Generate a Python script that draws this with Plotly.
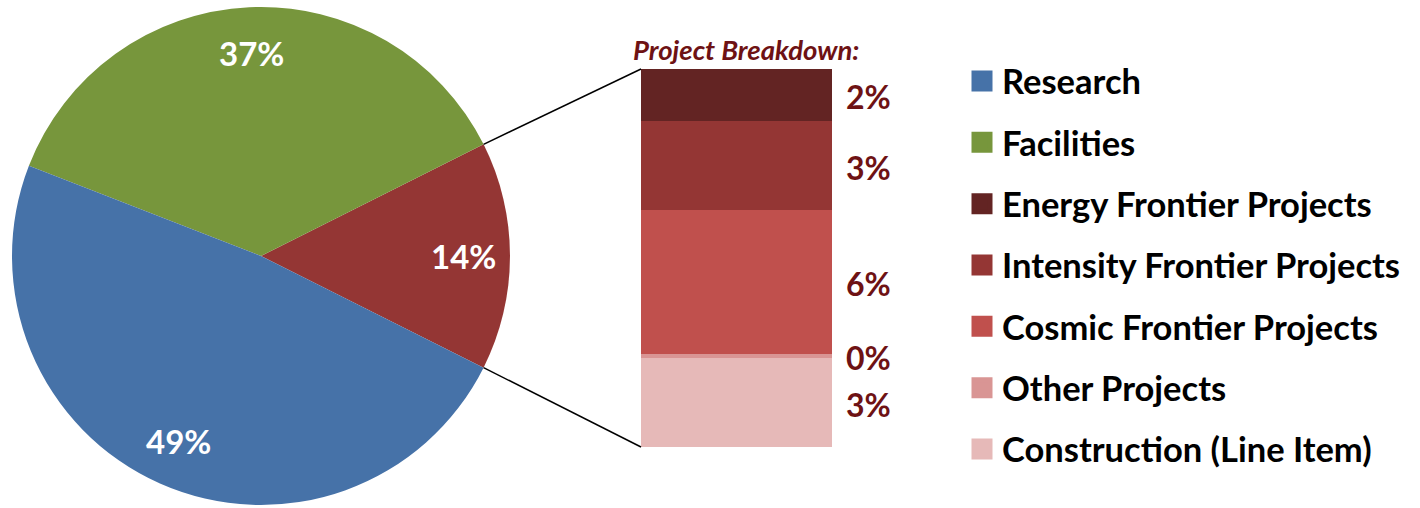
import math
import plotly.graph_objects as go

W, H = 1420, 508

# ---- data ----
pie_labels = ["Projects", "Facilities", "Research"]
pie_values = [14.8, 36.7, 48.5]
pie_text = ["14%", "37%", "49%"]
pie_colors = ["#943634", "#77963C", "#4672A8"]

bar_labels = ["Construction (Line Item)", "Other Projects", "Cosmic Frontier Projects",
              "Intensity Frontier Projects", "Energy Frontier Projects"]
bar_values = [3.48, 0.16, 5.64, 3.48, 2.04]
bar_text = ["3%", "0%", "6%", "3%", "2%"]
bar_colors = ["#E6B9B8", "#D99594", "#C0504D", "#943634", "#632423"]

legend_names = ["Research", "Facilities", "Energy Frontier Projects",
                "Intensity Frontier Projects", "Cosmic Frontier Projects",
                "Other Projects", "Construction (Line Item)"]
legend_colors = ["#4672A8", "#77963C", "#632423", "#943634", "#C0504D", "#D99594", "#E6B9B8"]

FONT = "Lato"
DARKRED = "#6E1214"

# ---- layout geometry (pixels) ----
pie_cx, pie_cy, pie_r = 261, 256, 249
bar_x0, bar_x1, bar_top, bar_bot = 641, 832, 69, 447
axis_x1 = 920            # bar axis extends right so the labels sit inside its range
label_gap_px = 14        # gap between bar and its labels
label_drop_px = 6        # visual baseline correction of the bar labels
label_r = 0.815          # radial position of pie labels (fraction of radius)

pie_total = sum(pie_values)
half_deg = pie_values[0] / pie_total * 180
bar_px = bar_x1 - bar_x0  # one x-unit of the bar axis in pixels
total = sum(bar_values)
units_per_px_y = total / (bar_bot - bar_top)

fig = go.Figure()

fig.add_trace(go.Pie(
    labels=pie_labels, values=pie_values,
    textinfo="none",
    marker=dict(colors=pie_colors, line=dict(width=0)),
    sort=False, direction="counterclockwise",
    rotation=90 - half_deg,
    domain=dict(x=[(pie_cx - pie_r) / W, (pie_cx + pie_r) / W],
                y=[1 - (pie_cy + pie_r) / H, 1 - (pie_cy - pie_r) / H]),
    showlegend=False, hoverinfo="skip",
))

# pie percentage labels placed along each slice's mid angle
start = -half_deg
for val, txt in zip(pie_values, pie_text):
    span = val / pie_total * 360
    mid = math.radians(start + span / 2)
    px = pie_cx + label_r * pie_r * math.cos(mid)
    py = pie_cy - label_r * pie_r * math.sin(mid)
    fig.add_annotation(x=px / W, y=1 - py / H, xref="paper", yref="paper",
                       xanchor="center", yanchor="middle", showarrow=False, text=txt,
                       font=dict(family=FONT, size=33, color="white", weight="bold"))
    start += span

for name, val, col in zip(bar_labels, bar_values, bar_colors):
    fig.add_trace(go.Bar(
        x=[0], y=[val], name=name, width=1,
        marker=dict(color=col, line=dict(width=0)),
        showlegend=False, hoverinfo="skip",
    ))

# labels to the right of the stacked bar, at segment middles
mids = []
acc = 0
for v in bar_values:
    mids.append(acc + v / 2 - label_drop_px * units_per_px_y)
    acc += v
fig.add_trace(go.Scatter(
    x=[0.5 + label_gap_px / bar_px] * len(bar_values), y=mids, mode="text", text=bar_text,
    textposition="middle right", cliponaxis=False,
    textfont=dict(family=FONT, size=32, color=DARKRED, weight="bold"),
    showlegend=False, hoverinfo="skip",
))

# legend entries
for i, (name, col) in enumerate(zip(legend_names, legend_colors)):
    fig.add_trace(go.Scatter(
        x=[None], y=[None], mode="markers", name=name, legendgroup=f"g{i}",
        marker=dict(symbol="square", size=16, color=col, line=dict(color=col, width=5)),
    ))

fig.update_layout(
    width=W, height=H, margin=dict(l=0, r=0, t=0, b=0),
    paper_bgcolor="white", plot_bgcolor="white",
    barmode="stack", bargap=0,
    xaxis=dict(domain=[bar_x0 / W, axis_x1 / W],
               range=[-0.5, -0.5 + (axis_x1 - bar_x0) / bar_px],
               visible=False, fixedrange=True),
    yaxis=dict(domain=[1 - bar_bot / H, 1 - bar_top / H], range=[0, total],
               visible=False, fixedrange=True),
    showlegend=True,
    legend=dict(x=962 / W, xanchor="left", y=1 - 52 / H, yanchor="top",
                font=dict(family=FONT, size=34.5, color="black", weight="bold"),
                tracegroupgap=13.5, itemclick=False, itemdoubleclick=False,
                bgcolor="rgba(0,0,0,0)"),
)

fig.add_annotation(
    x=(bar_x0 + bar_x1) / 2 / W + 0.007, y=1 - 49 / H, xref="paper", yref="paper",
    xanchor="center", yanchor="middle",
    text="<i><b>Project Breakdown:</b></i>", showarrow=False,
    font=dict(family=FONT, size=27.5, color=DARKRED),
)

# connector lines from the projects slice edges to the bar corners
half = math.radians(half_deg)
ex = pie_cx + pie_r * math.cos(half)
ey_up = pie_cy - pie_r * math.sin(half)
ey_dn = pie_cy + pie_r * math.sin(half)
for (y0, y1) in [(ey_up, bar_top), (ey_dn, bar_bot)]:
    fig.add_shape(type="line", xref="paper", yref="paper",
                  x0=ex / W, y0=1 - y0 / H, x1=bar_x0 / W, y1=1 - y1 / H,
                  line=dict(color="black", width=1.5))

fig.write_html("out.html")
